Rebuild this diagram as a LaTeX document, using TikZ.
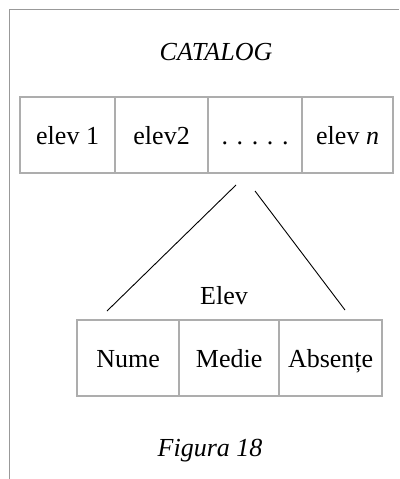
\documentclass[tikz,border=0pt]{standalone}
\usepackage{fontspec}
\setmainfont{Liberation Serif}
\begin{document}
\begin{tikzpicture}[x=1pt,y=-1pt,
  frameline/.style={draw=black!40,line width=1.6pt},
  cell/.style={draw=black!32,line width=2.2pt,minimum height=76pt,inner sep=0pt,anchor=north west,
    text height=18pt,text depth=0pt,font=\fontsize{26}{30}\selectfont},
  label/.style={font=\fontsize{26}{30}\selectfont,inner sep=0pt},
  link/.style={draw=black,line width=0.9pt}]
\useasboundingbox (0,0) rectangle (399,479);
% open frame: top and left edges
\draw[frameline] (399,9.5) -- (9.5,9.5) -- (9.5,479);
% title
\node[label,font=\fontsize{26}{30}\selectfont\itshape] (title) at (216,52) {CATALOG};
% array of records
\node[cell,minimum width=95pt] (c1) at (19,96) {elev 1};
\node[cell,minimum width=93pt] (c2) at (114,96) {elev2};
\node[cell,minimum width=94pt] (c3) at (207,96) {. . . . .};
\node[cell,minimum width=91pt] (c4) at (301,96) {elev \textit{n}};
% record structure
\node[label] (elev) at (224,296) {Elev};
\node[cell,minimum width=102pt] (f1) at (76,319) {Nume};
\node[cell,minimum width=100pt] (f2) at (178,319) {Medie};
\node[cell,minimum width=103pt] (f3) at (278,319) {Absențe};
% expansion lines
\coordinate (a1) at (236,185);
\coordinate (a2) at (255,191);
\coordinate (b1) at (107,311);
\coordinate (b2) at (345,310);
\draw[link] (a1) -- (b1);
\draw[link] (a2) -- (b2);
% caption
\node[label,font=\fontsize{26}{30}\selectfont\itshape] (cap) at (210,451) {Figura 18};
\end{tikzpicture}
\end{document}
